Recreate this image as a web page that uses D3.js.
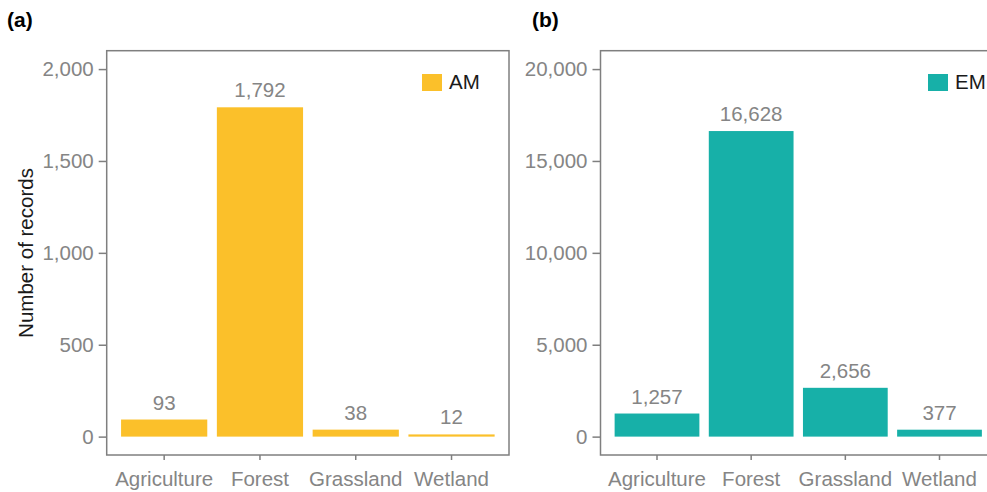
<!DOCTYPE html>
<html>
<head>
<meta charset="utf-8">
<script src="https://cdn.jsdelivr.net/npm/d3@7"></script>
<style>
  body { margin: 0; background: #fff; }
  svg { display: block; font-family: "Liberation Sans", Arial, sans-serif; }
</style>
</head>
<body>
<div id="chart"></div>
<script>
// Data
const categories = ["Agriculture", "Forest", "Grassland", "Wetland"];
const amValues = [93, 1792, 38, 12];
const emValues = [1257, 16628, 2656, 377];
const amTicks = [0, 500, 1000, 1500, 2000];
const emTicks = [0, 5000, 10000, 15000, 20000];

const width = 987;
const height = 492;
const grey = "#858585";
const axisGrey = "#7f7f7f";
const fs = 20.5;

const svg = d3.select("#chart")
  .append("svg")
  .attr("width", width)
  .attr("height", height);

// Draw one panel (plot box, bars, value labels, axes, legend)
function drawPanel(cfg) {
  const g = svg.append("g");

  const x = d3.scaleBand()
    .domain(categories)
    .range([cfg.left, cfg.right])
    .paddingInner(0.1)
    .paddingOuter(0.15);

  const y = d3.scaleLinear()
    .domain(cfg.yDomain)
    .range([cfg.bottom, cfg.top]);

  // bars
  g.selectAll("rect.bar")
    .data(cfg.values)
    .enter().append("rect")
      .attr("class", "bar")
      .attr("x", (d, i) => x(categories[i]))
      .attr("y", d => y(d))
      .attr("width", x.bandwidth())
      .attr("height", d => y(0) - y(d))
      .attr("fill", cfg.color);

  // value labels
  g.selectAll("text.val")
    .data(cfg.values)
    .enter().append("text")
      .attr("class", "val")
      .attr("x", (d, i) => x(categories[i]) + x.bandwidth() / 2)
      .attr("y", d => y(d) - 10)
      .attr("text-anchor", "middle")
      .attr("font-size", fs)
      .attr("fill", grey)
      .text(d => d3.format(",")(d));

  // y axis
  const yAxis = g.append("g")
    .attr("transform", `translate(${cfg.left}, 0)`)
    .call(d3.axisLeft(y).tickValues(cfg.ticks).tickFormat(d3.format(",")).tickSize(8).tickPadding(5));
  yAxis.select(".domain").remove();
  yAxis.selectAll(".tick line").attr("stroke", axisGrey).attr("stroke-width", 1.5);
  yAxis.selectAll(".tick text").attr("fill", grey).attr("font-size", fs)
    .attr("font-family", "Liberation Sans, Arial, sans-serif");

  // x axis
  const xAxis = g.append("g")
    .attr("transform", `translate(0, ${cfg.bottom})`)
    .call(d3.axisBottom(x).tickSize(5).tickPadding(11));
  xAxis.select(".domain").remove();
  xAxis.selectAll(".tick line").attr("stroke", axisGrey).attr("stroke-width", 1.5);
  xAxis.selectAll(".tick text").attr("fill", grey).attr("font-size", fs)
    .attr("font-family", "Liberation Sans, Arial, sans-serif");

  // panel border
  g.append("rect")
    .attr("x", cfg.left)
    .attr("y", cfg.top)
    .attr("width", cfg.right - cfg.left)
    .attr("height", cfg.bottom - cfg.top)
    .attr("fill", "none")
    .attr("stroke", axisGrey)
    .attr("stroke-width", 1.5);

  // legend
  g.append("rect")
    .attr("x", cfg.legendX)
    .attr("y", 74)
    .attr("width", 20)
    .attr("height", 17)
    .attr("fill", cfg.color);
  g.append("text")
    .attr("x", cfg.legendX + 27)
    .attr("y", 89)
    .attr("font-size", fs)
    .attr("fill", "#1a1a1a")
    .text(cfg.name);

  // panel tag
  g.append("text")
    .attr("x", cfg.tagX)
    .attr("y", 27)
    .attr("font-size", 21)
    .attr("font-weight", "bold")
    .attr("fill", "#000")
    .text(cfg.tag);
}

drawPanel({
  values: amValues, ticks: amTicks, yDomain: [-100, 2100],
  left: 106.7, right: 509, top: 50.7, bottom: 455,
  color: "#FBC02A", name: "AM", legendX: 422, tag: "(a)", tagX: 7
});

drawPanel({
  values: emValues, ticks: emTicks, yDomain: [-1000, 21000],
  left: 600.5, right: 996, top: 50.7, bottom: 455,
  color: "#17B0A8", name: "EM", legendX: 928, tag: "(b)", tagX: 532
});

// y axis title
svg.append("text")
  .attr("transform", `translate(33, 253) rotate(-90)`)
  .attr("text-anchor", "middle")
  .attr("font-size", fs)
  .attr("fill", "#1a1a1a")
  .text("Number of records");
</script>
</body>
</html>
